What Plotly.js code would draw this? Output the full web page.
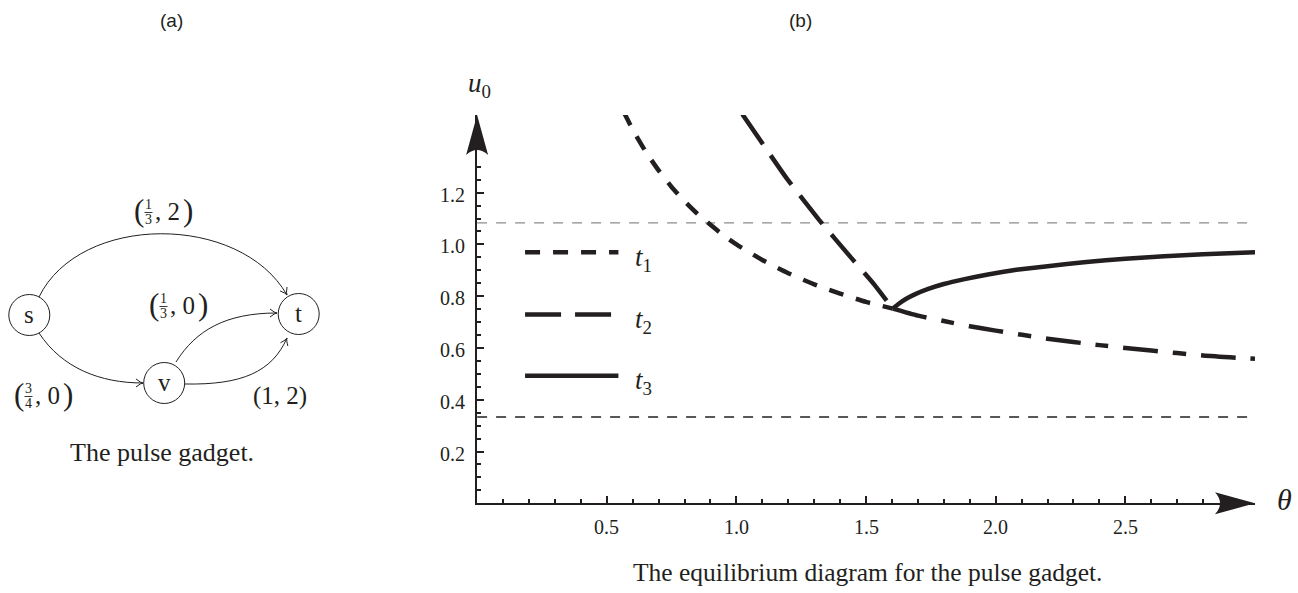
<!DOCTYPE html>
<html>
<head>
<meta charset="utf-8">
<script src="https://cdn.plot.ly/plotly-3.0.1.min.js"></script>
<style>html,body{margin:0;padding:0;background:#fff;}#chart{width:1298px;height:593px;}</style>
</head>
<body>
<div id="chart"></div>
<script>
// ---------- data ----------
const t1Theta = [0.565, 0.60, 0.65, 0.70, 0.75, 0.80, 0.85, 0.90, 0.95, 1.00, 1.10, 1.20, 1.30, 1.40, 1.50, 1.603];
const t1U     = [1.513, 1.444, 1.359, 1.286, 1.222, 1.167, 1.118, 1.076, 1.035, 1.000, 0.940, 0.889, 0.846, 0.810, 0.778, 0.752];
const t2Theta = [1.023, 1.119, 1.192, 1.318, 1.443, 1.531, 1.603];
const t2U     = [1.503, 1.363, 1.258, 1.096, 0.948, 0.846, 0.752];
const sharedTheta = [1.603, 1.70, 1.80, 1.90, 2.00, 2.20, 2.40, 2.60, 2.80, 3.00];
const sharedU     = [0.752, 0.725, 0.704, 0.684, 0.667, 0.636, 0.611, 0.590, 0.571, 0.558];
const t3Theta = [1.603, 1.625, 1.655, 1.69, 1.74, 1.80, 1.88, 1.97, 2.08, 2.20, 2.35, 2.50, 2.65, 2.80, 3.00];
const t3U     = [0.752, 0.770, 0.790, 0.808, 0.828, 0.847, 0.866, 0.884, 0.902, 0.916, 0.932, 0.945, 0.954, 0.962, 0.970];
const refLevels = [1.0833, 0.3333];
const refColors = ['#8c8c8c', '#231f20'];
const refThetaEnd = 2.975;
const xTickVals = [0.5, 1.0, 1.5, 2.0, 2.5];
const xTickText = ['0.5', '1.0', '1.5', '2.0', '2.5'];
const yTickVals = [0.2, 0.4, 0.6, 0.8, 1.0, 1.2];
const yTickText = ['0.2', '0.4', '0.6', '0.8', '1.0', '1.2'];
const xMinorVals = [0.1,0.2,0.3,0.4,0.6,0.7,0.8,0.9,1.1,1.2,1.3,1.4,1.6,1.7,1.8,1.9,2.1,2.2,2.3,2.4,2.6,2.7,2.8];
const yMinorVals = [0.05,0.1,0.15,0.25,0.3,0.35,0.45,0.5,0.55,0.65,0.7,0.75,0.85,0.9,0.95,1.05,1.1,1.15,1.25,1.3];
const legendNames = ['1', '2', '3'];
const legendU = [0.970, 0.729, 0.493];
const legendTheta = [0.185, 0.545];

// ---------- geometry ----------
const W = 1298, H = 593;
const X0 = 477.1, X1 = 1255, Y0 = 503.3, Y1 = 115;
const INK = '#231f20';
const SERIF = 'Liberation Serif';
const LW = 4.5;
const dashT1 = '15px,13px';
const dashT2 = '36px,14px';
const dashShared = '35px,15px,13px,15px';

const traces = [];
refLevels.forEach((v, i) => {
  traces.push({x: [0, refThetaEnd], y: [v, v], mode: 'lines', showlegend: false, hoverinfo: 'skip',
    line: {color: refColors[i], width: 1.3, dash: '10px,9px'}, xaxis: 'x', yaxis: 'y'});
});
traces.push({x: t1Theta, y: t1U, mode: 'lines', line: {color: INK, width: LW, dash: dashT1, shape: 'spline', smoothing: 0.6}, showlegend: false});
traces.push({x: t2Theta, y: t2U, mode: 'lines', line: {color: INK, width: LW, dash: dashT2, shape: 'spline', smoothing: 0.5}, showlegend: false});
traces.push({x: sharedTheta, y: sharedU, mode: 'lines', line: {color: INK, width: LW, dash: dashShared, shape: 'spline', smoothing: 0.6}, showlegend: false});
traces.push({x: t3Theta, y: t3U, mode: 'lines', line: {color: INK, width: LW, shape: 'spline', smoothing: 0.3}, showlegend: false});

const shapes = [];
const anns = [];
function txt(x, y, text, size, opts) {
  anns.push(Object.assign({xref: 'x2', yref: 'y2', x: x, y: y, text: text, showarrow: false,
    xanchor: 'center', yanchor: 'middle', borderpad: 0, font: {family: SERIF, size: size, color: INK}}, opts || {}));
}
// tick labels placed through the axis scales
xTickVals.forEach((v, i) => {
  anns.push({xref: 'x', yref: 'y2', x: v, y: 527, text: xTickText[i], showarrow: false, xanchor: 'center', yanchor: 'middle',
    borderpad: 0, font: {family: SERIF, size: 20, color: INK}});
});
yTickVals.forEach((v, i) => {
  anns.push({xref: 'x2', yref: 'y', x: 466, y: v, yshift: -2, text: yTickText[i], showarrow: false, xanchor: 'right', yanchor: 'middle',
    borderpad: 0, font: {family: SERIF, size: 20, color: INK}});
});
// axis arrowheads (pixel frame on x2/y2)
shapes.push({type: 'path', xref: 'x2', yref: 'y2', fillcolor: INK, line: {width: 0},
  path: `M ${X1} ${Y0} L ${X1-40} ${Y0-11} Q ${X1-30} ${Y0} ${X1-40} ${Y0+11} Z`});
shapes.push({type: 'path', xref: 'x2', yref: 'y2', fillcolor: INK, line: {width: 0},
  path: `M ${X0} ${Y1} L ${X0-11} ${Y1+40} Q ${X0} ${Y1+30} ${X0+11} ${Y1+40} Z`});

// legend samples
const legDash = [dashT1, dashT2, 'solid'];
legendU.forEach((u, i) => {
  shapes.push({type: 'line', xref: 'x', yref: 'y', x0: legendTheta[0], x1: legendTheta[1], y0: u, y1: u,
    line: {color: INK, width: LW, dash: legDash[i]}});
  anns.push({xref: 'x', yref: 'y', x: legendTheta[1] + 0.06, y: u - 0.025, text: '<i>t</i><sub>' + legendNames[i] + '</sub>',
    showarrow: false, xanchor: 'left', yanchor: 'middle', borderpad: 0, font: {family: SERIF, size: 27, color: INK}});
});

// axis titles
txt(479, 85, '<i>u</i><sub>0</sub>', 27);
txt(1284, 499, '<i>θ</i>', 30);

// panel labels and captions
txt(171, 20, '(a)', 18, {font: {family: 'Liberation Sans', size: 19, color: INK}});
txt(800, 20, '(b)', 18, {font: {family: 'Liberation Sans', size: 19, color: INK}});
txt(162, 452, 'The pulse gadget.', 26);
txt(867, 572, 'The equilibrium diagram for the pulse gadget.', 25.5);

// ---------- panel (a): graph ----------
const R = 20.5;
const nodes = {s: [29.3, 315], t: [298.7, 314], v: [164.2, 383]};
Object.keys(nodes).forEach(k => {
  const [cx, cy] = nodes[k];
  shapes.push({type: 'circle', xref: 'x2', yref: 'y2', x0: cx - R, x1: cx + R, y0: cy - R, y1: cy + R,
    line: {color: INK, width: 1}, fillcolor: 'rgba(0,0,0,0)'});
  txt(cx, cy - 1, k, 25);
});
const edges = [
  [[39, 297], [80, 213], [240, 213], [287, 295]],
  [[39, 333], [62, 368], [100, 383], [143, 383]],
  [[176, 362], [196, 330], [226, 313], [277, 313]],
  [[185, 384], [242, 385], [272, 372], [287, 338]]
];
edges.forEach(e => {
  const [p0, p1, p2, p3] = e;
  shapes.push({type: 'path', xref: 'x2', yref: 'y2', line: {color: INK, width: 1},
    path: `M ${p0[0]} ${p0[1]} C ${p1[0]} ${p1[1]} ${p2[0]} ${p2[1]} ${p3[0]} ${p3[1]}`});
  let dx = p3[0] - p2[0], dy = p3[1] - p2[1];
  const L = Math.hypot(dx, dy); dx /= L; dy /= L;
  const nx = -dy, ny = dx, al = 7, aw = 4;
  const b1 = [p3[0] - al * dx + aw * nx, p3[1] - al * dy + aw * ny];
  const b2 = [p3[0] - al * dx - aw * nx, p3[1] - al * dy - aw * ny];
  shapes.push({type: 'path', xref: 'x2', yref: 'y2', line: {color: INK, width: 1},
    path: `M ${b1[0]} ${b1[1]} Q ${p3[0]-2*dx} ${p3[1]-2*dy} ${p3[0]} ${p3[1]} Q ${p3[0]-2*dx} ${p3[1]-2*dy} ${b2[0]} ${b2[1]}`});
});
function fracLabel(x, y, num, den, rest) {
  txt(x + 3.5, y - 1, '(', 31);
  const fx = x + 13.5;
  txt(fx, y - 6.5, num, 14);
  txt(fx, y + 8.5, den, 14);
  shapes.push({type: 'line', xref: 'x2', yref: 'y2', x0: fx - 4, x1: fx + 4, y0: y + 1.5, y1: y + 1.5, line: {color: INK, width: 0.9}});
  txt(fx + 5, y, rest, 25, {xanchor: 'left'});
  txt(x + 53, y - 1, ')', 31);
}
fracLabel(135, 211, '1', '3', ', 2');
fracLabel(150, 305, '1', '3', ', 0');
fracLabel(15, 395, '3', '4', ', 0');
txt(252, 396, '(1, 2)', 25, {xanchor: 'left'});

const layout = {
  width: W, height: H, margin: {l: 0, r: 0, t: 0, b: 0},
  paper_bgcolor: '#fff', plot_bgcolor: 'rgba(0,0,0,0)', showlegend: false,
  font: {family: SERIF, color: INK, size: 20},
  xaxis: {domain: [X0 / W, X1 / W], range: [0, 3], anchor: 'y', showline: true, linecolor: INK, linewidth: 2,
    ticks: 'inside', ticklen: 7, tickwidth: 2, tickcolor: INK, tickmode: 'array', tickvals: xTickVals, showticklabels: false,
    minor: {tickmode: 'array', tickvals: xMinorVals, ticks: 'inside', ticklen: 4, tickwidth: 2, tickcolor: INK, showgrid: false},
    showgrid: false, zeroline: false, fixedrange: true},
  yaxis: {domain: [1 - Y0 / H, 1 - Y1 / H], range: [0, 1.5], anchor: 'x', showline: true, linecolor: INK, linewidth: 2,
    ticks: 'inside', ticklen: 7, tickwidth: 2, tickcolor: INK, tickmode: 'array', tickvals: yTickVals, showticklabels: false,
    minor: {tickmode: 'array', tickvals: yMinorVals, ticks: 'inside', ticklen: 4, tickwidth: 2, tickcolor: INK, showgrid: false},
    showgrid: false, zeroline: false, fixedrange: true},
  xaxis2: {domain: [0, 1], range: [0, W], anchor: 'y2', visible: false, fixedrange: true},
  yaxis2: {domain: [0, 1], range: [H, 0], anchor: 'x2', visible: false, fixedrange: true},
  shapes: shapes, annotations: anns
};
traces.push({x: [0], y: [0], xaxis: 'x2', yaxis: 'y2', mode: 'markers', marker: {opacity: 0}, hoverinfo: 'skip', showlegend: false});
Plotly.newPlot('chart', traces, layout, {displayModeBar: false, staticPlot: true});
</script>
</body>
</html>
